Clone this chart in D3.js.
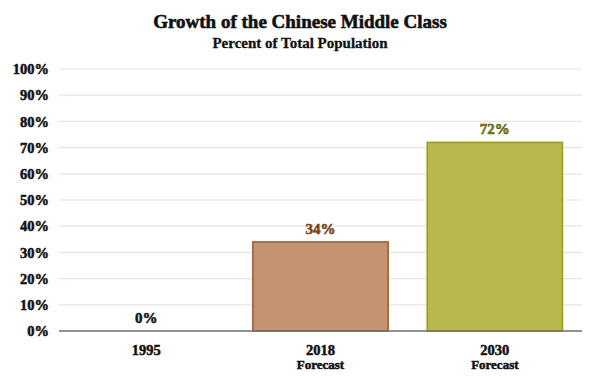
<!DOCTYPE html>
<html><head><meta charset="utf-8">
<script src="https://cdn.jsdelivr.net/npm/d3@7"></script>
<style>body{margin:0;background:#fff}svg{display:block}</style>
</head><body>
<script>
const categories = ["1995", "2018", "2030"];
const subLabels = ["", "Forecast", "Forecast"];
const values = [0, 34, 72];
const valueLabels = ["0%", "34%", "72%"];
const yTicks = [0,10,20,30,40,50,60,70,80,90,100];
const fills = ["#c49372", "#c49372", "#b8b84e"];
const strokes = ["#9c5a2a", "#9c5a2a", "#9a9a18"];
const labelColors = ["#111", "#8a4a1c", "#8c8c10"];
const labelStrokes = ["#111", "#6a3510", "#4a4a00"];

const W = 599, H = 382;
const m = {left: 59, right: 17, top: 69, bottom: 51};
const svg = d3.select("body").append("svg").attr("width", W).attr("height", H);
const font = "'Liberation Serif', 'DejaVu Serif', serif";

const x = d3.scaleBand().domain(categories).range([m.left, W - m.right]).paddingInner(0.224).paddingOuter(0.112);
const y = d3.scaleLinear().domain([0, 100]).range([H - m.bottom, m.top]);

// gridlines
svg.append("g").selectAll("line").data(yTicks.filter(d => d > 0)).join("line")
  .attr("x1", m.left).attr("x2", W - m.right)
  .attr("y1", d => y(d)).attr("y2", d => y(d))
  .attr("stroke", "#e4e4e4").attr("stroke-width", 1.2);

// y axis labels
const yAxis = d3.axisLeft(y).tickValues(yTicks).tickFormat(d => d + "%").tickSize(0).tickPadding(10);
const ya = svg.append("g").attr("transform", `translate(${m.left},0)`).call(yAxis);
ya.select(".domain").remove();
ya.selectAll("text").attr("font-family", font).attr("font-weight", "bold").attr("font-size", 14.5)
  .attr("fill", "#111").attr("stroke", "#111").attr("stroke-width", 0.5);

// bars
svg.append("g").selectAll("rect").data(values).join("rect")
  .attr("x", (d, i) => x(categories[i]))
  .attr("y", d => y(d))
  .attr("width", x.bandwidth())
  .attr("height", d => y(0) - y(d))
  .attr("fill", (d, i) => fills[i])
  .attr("stroke", (d, i) => strokes[i])
  .attr("stroke-width", d => d > 0 ? 1.5 : 0);

// baseline
svg.append("line").attr("x1", m.left).attr("x2", W - m.right)
  .attr("y1", y(0)).attr("y2", y(0)).attr("stroke", "#6e6e6e").attr("stroke-width", 1.3);

// value labels
svg.append("g").selectAll("text").data(values).join("text")
  .attr("x", (d, i) => x(categories[i]) + x.bandwidth() / 2)
  .attr("y", d => y(d) - 8)
  .attr("text-anchor", "middle")
  .attr("font-family", font).attr("font-weight", "bold").attr("font-size", 15)
  .attr("fill", (d, i) => labelColors[i])
  .attr("stroke", (d, i) => labelStrokes[i]).attr("stroke-width", 0.5)
  .text((d, i) => valueLabels[i]);

// category labels
const xa = svg.append("g").attr("transform", `translate(0,${y(0)})`)
  .call(d3.axisBottom(x).tickSize(0).tickPadding(0));
xa.select(".domain").remove();
xa.selectAll("text").remove();
const cl = svg.append("g").selectAll("text").data(categories).join("text")
  .attr("x", d => x(d) + x.bandwidth() / 2)
  .attr("text-anchor", "middle")
  .attr("font-family", font).attr("font-weight", "bold").attr("fill", "#111")
  .attr("stroke", "#111").attr("stroke-width", 0.5);
cl.append("tspan").attr("x", d => x(d) + x.bandwidth() / 2).attr("y", 355).attr("font-size", 14.5).text(d => d);
cl.append("tspan").attr("x", d => x(d) + x.bandwidth() / 2).attr("y", 369).attr("font-size", 13)
  .text((d, i) => subLabels[i]);

// title
svg.append("text").attr("x", 300).attr("y", 28).attr("text-anchor", "middle")
  .attr("font-family", font).attr("font-weight", "bold").attr("font-size", 19).attr("fill", "#111")
  .attr("stroke", "#111").attr("stroke-width", 0.6)
  .text("Growth of the Chinese Middle Class");
svg.append("text").attr("x", 300).attr("y", 48).attr("text-anchor", "middle")
  .attr("font-family", font).attr("font-weight", "bold").attr("font-size", 15).attr("fill", "#111")
  .attr("stroke", "#111").attr("stroke-width", 0.3)
  .text("Percent of Total Population");
</script>
</body></html>
